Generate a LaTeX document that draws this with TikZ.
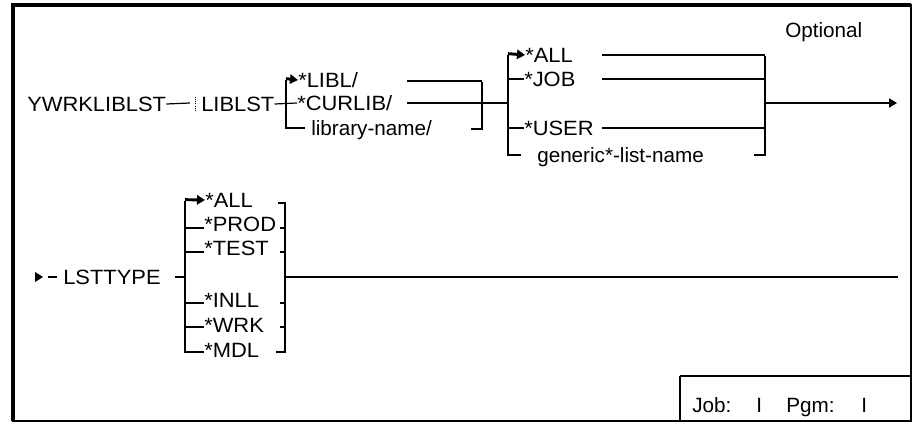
\documentclass[tikz,border=0pt]{standalone}
\usepackage{fontspec}
\setmainfont{Liberation Sans}
\newfontfamily\widecaps[FakeStretch=1.06]{Liberation Sans}
\usetikzlibrary{arrows.meta,positioning}

\tikzset{
  lbl/.style={anchor=west, inner sep=0pt, text height=11pt, text depth=0pt, font=\fontsize{15.5}{18}\selectfont},
  kw/.style={lbl, font=\fontsize{15.5}{18}\widecaps},
  rail/.style={line width=0.9pt},
  brk/.style={line width=2.2pt},
  tip/.style={-{Triangle[length=6pt,width=7pt]}}
}

\begin{document}
\begin{tikzpicture}[x=0.75pt,y=-0.75pt]
        \useasboundingbox (0,0) rectangle (914,425);

        % Cadre
        \draw[line width=0.8pt] (13,5) rectangle (911,421);
        \draw[line width=2.4pt] (13,421) -- (13,5) -- (911,5);

        % Case Job / Pgm
        \draw[line width=1.2pt] (680,376) -- (911,376);
        \draw[line width=2pt] (680,376) -- (680,421);
        \node[lbl] (jobl) at (692,405) {Job:};
        \node[lbl] (jobv) at (756,405) {I};
        \node[lbl] (pgml) at (786,405) {Pgm:};
        \node[lbl] (pgmv) at (861,405) {I};

        % Ligne 1 : commande et LIBLST
        \node[kw] (cmd) at (27,104) {YWRKLIBLST};
        \node[kw] (liblst) at (201,104) {LIBLST};
        \coordinate (c1) at (190,103);
        \draw[rail] (cmd.east) -- (c1);
        \draw[line width=0.6pt, densely dotted] (195,97) -- (195,110);

        \node[kw] (libl) at (298,80) {*LIBL/};
        \node[kw] (curlib) at (297,103) {*CURLIB/};
        \node[lbl] (libname) at (311,128) {library-name/};
        \coordinate (l1top) at (286,80);
        \coordinate (l1bot) at (286,128);
        \coordinate (l1end) at (305,128);
        \draw[rail] (liblst.east) -- (curlib.west);
        \draw[brk] (l1top) -- (l1bot) -- (l1end);
        \draw[brk, tip] ([yshift=1pt]l1top) -- (libl.west);

        \coordinate (r1top) at (482,81);
        \coordinate (r1bot) at (482,129);
        \coordinate (r1end) at (471,129);
        \coordinate (a1) at (407,81);
        \coordinate (a2) at (407,103);
        \draw[rail] (a1) -- (r1top);
        \draw[brk] ([yshift=-1pt]r1top) -- (r1bot) -- (r1end);

        % Ligne 1 : *ALL / *JOB / *USER
        \node[kw] (all) at (525,55) {*ALL};
        \node[kw] (job) at (524,79) {*JOB};
        \node[kw] (user) at (524,128) {*USER};
        \node[lbl] (generic) at (537,155) {generic*-list-name};
        \coordinate (l2top) at (508,55);
        \coordinate (l2mid) at (508,103);
        \coordinate (l2bot) at (508,155);
        \coordinate (l2end) at (521,155);
        \draw[rail] (a2) -- (l2mid);
        \draw[brk] (l2top) -- (l2bot) -- (l2end);
        \draw[brk, tip] ([yshift=1pt]l2top) -- (all.west);
        \draw[brk] (l2top |- job.west) -- (job.west);
        \draw[brk] (l2top |- user.west) -- (user.west);

        \coordinate (r2top) at (765,55);
        \coordinate (r2mid) at (765,103);
        \coordinate (r2bot) at (765,155);
        \coordinate (r2end) at (754,155);
        \coordinate (out1) at (897,103);
        \draw[rail] (602,55) -- (r2top);
        \draw[rail] (602,79) -- (r2top |- job.west);
        \draw[brk] (602,128) -- (r2top |- user.west);
        \draw[brk] ([yshift=-1pt]r2top) -- (r2bot) -- (r2end);
        \draw[rail, tip] (r2mid) -- (out1);

        \node[lbl] (optional) at (785,30) {Optional};

        % Ligne 2 : LSTTYPE
        \fill (35,272) -- (43,277) -- (35,282) -- cycle;
        \coordinate (d1) at (48,277);
        \coordinate (d2) at (57,277);
        \draw[rail] (d1) -- (d2);
        \node[kw] (lsttype) at (63,277) {LSTTYPE};

        \node[kw] (tall) at (205,200) {*ALL};
        \node[kw] (prod) at (204,224) {*PROD};
        \node[kw] (test) at (204,248) {*TEST};
        \node[kw] (inll) at (204,300) {*INLL};
        \node[kw] (wrk) at (204,325) {*WRK};
        \node[kw] (mdl) at (204,350) {*MDL};

        \coordinate (l3top) at (185,201);
        \coordinate (l3mid) at (185,277);
        \coordinate (l3bot) at (185,352);
        \coordinate (e1) at (175,277);
        \draw[rail] (e1) -- (l3mid);
        \draw[brk] (l3top) -- (l3bot) -- (mdl.west |- l3bot);
        \draw[brk, tip] ([yshift=1pt]l3top) -- (tall.west);
        \draw[rail] (185,228) -- (prod.west |- 0,228);
        \draw[brk] (185,252) -- (test.west |- 0,252);
        \draw[rail] (185,303) -- (inll.west |- 0,303);
        \draw[rail] (185,327) -- (wrk.west |- 0,327);

        \coordinate (r3top) at (285,203);
        \coordinate (r3mid) at (285,277);
        \coordinate (r3bot) at (285,352);
        \coordinate (out2) at (898,277);
        \draw[brk] (278,203) -- (r3top) -- (r3bot) -- (276,352);
        \draw[rail] (280,228) -- (r3top |- 0,228);
        \draw[rail] (280,252) -- (r3top |- 0,252);
        \draw[rail] (280,303) -- (r3top |- 0,303);
        \draw[rail] (280,327) -- (r3top |- 0,327);
        \draw[rail] (r3mid) -- (out2);
    \end{tikzpicture}
\end{document}
